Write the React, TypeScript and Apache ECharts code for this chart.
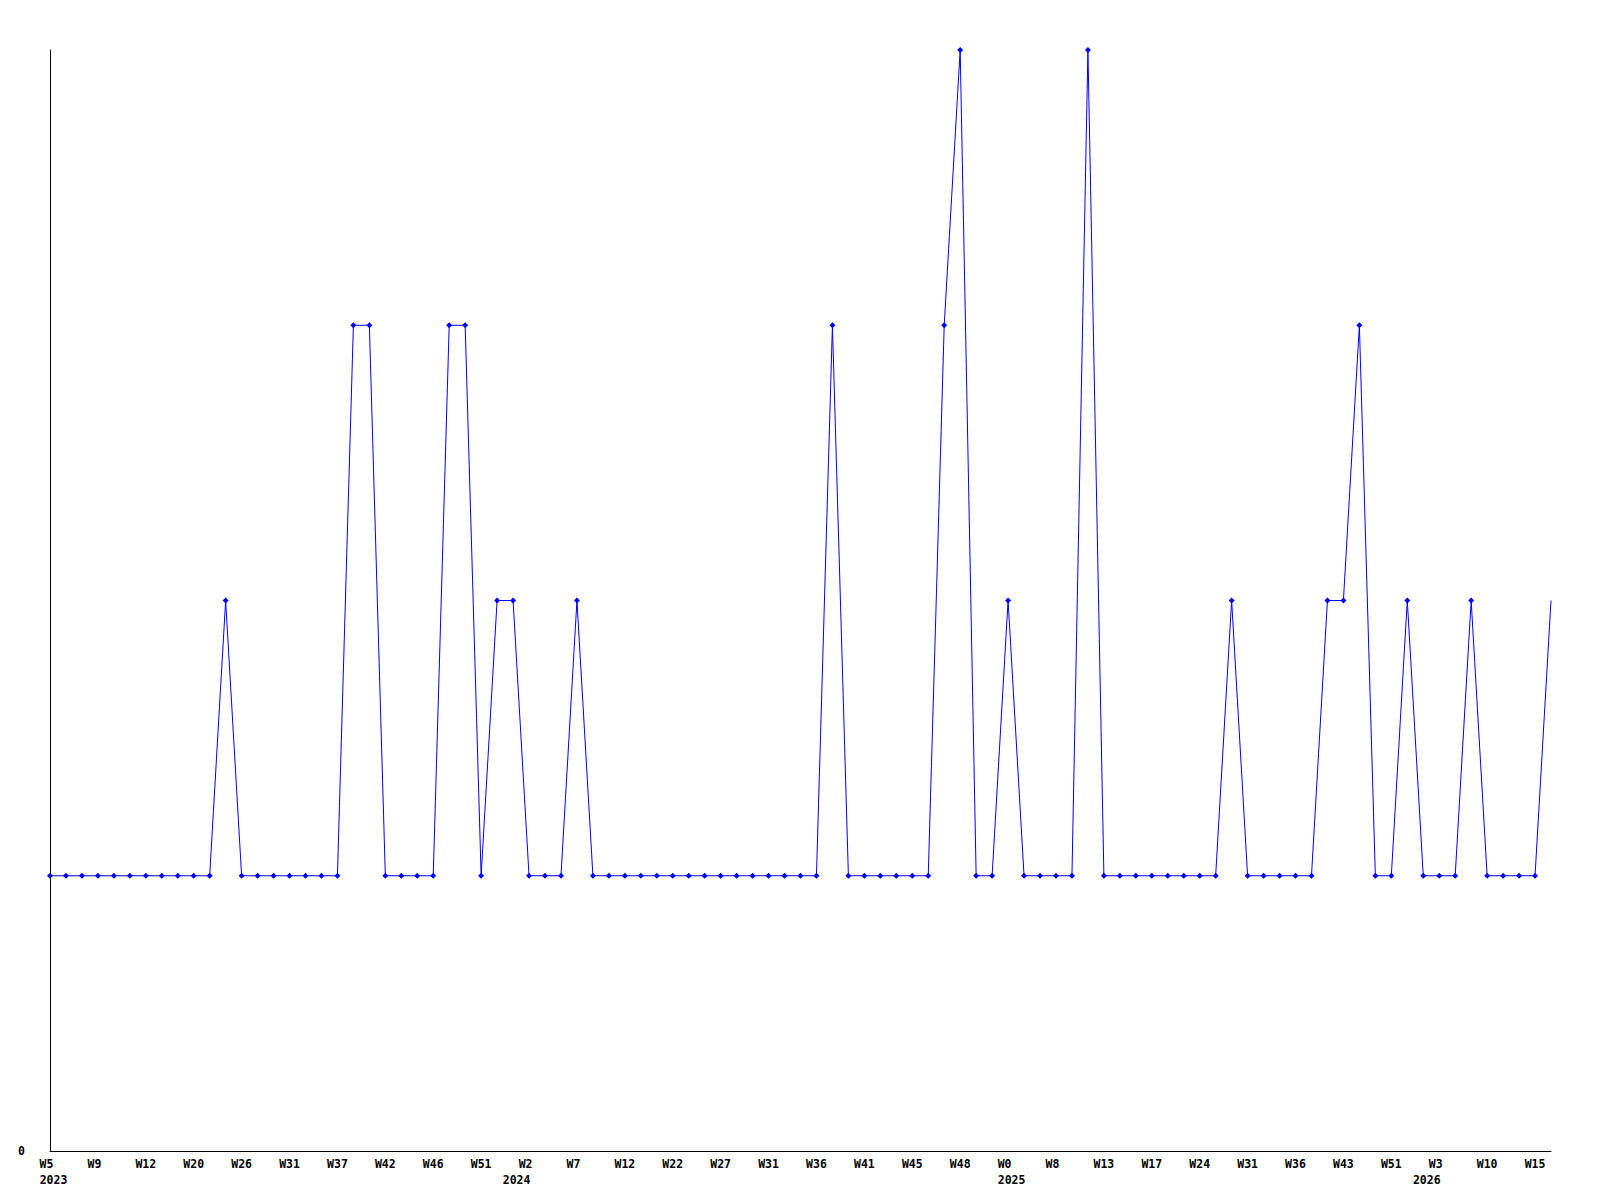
import React, { useEffect, useRef } from "react";
import * as echarts from "echarts";

// Series values, one per week point (95 points)
const values: number[] = [
  1, 1, 1, 1, 1, 1, 1, 1, 1, 1, 1,
  2,
  1, 1, 1, 1, 1, 1, 1,
  3, 3,
  1, 1, 1, 1,
  3, 3,
  1,
  2, 2,
  1, 1, 1,
  2,
  1, 1, 1, 1, 1, 1, 1, 1, 1, 1, 1, 1, 1, 1, 1,
  3,
  1, 1, 1, 1, 1, 1,
  3,
  4,
  1, 1,
  2,
  1, 1, 1, 1,
  4,
  1, 1, 1, 1, 1, 1, 1, 1,
  2,
  1, 1, 1, 1, 1,
  2, 2,
  3,
  1, 1,
  2,
  1, 1, 1,
  2,
  1, 1, 1, 1,
  2,
];

// Tick labels, shown every 3rd point
const weekTickLabels: string[] = [
  "W5", "W9", "W12", "W20", "W26", "W31", "W37", "W42", "W46", "W51",
  "W2", "W7", "W12", "W22", "W27", "W31", "W36", "W41", "W45", "W48",
  "W0", "W8", "W13", "W17", "W24", "W31", "W36", "W43", "W51",
  "W3", "W10", "W15",
];
const tickEvery = 3;

// Year labels and the point index where each year starts
const yearLabels: string[] = ["2023", "2024", "2025", "2026"];
const yearStartIndex: number[] = [0, 29, 60, 86];

const categories: string[] = values.map((_, i) =>
  i % tickEvery === 0 ? weekTickLabels[i / tickEvery] ?? "" : ""
);
const yearCategories: string[] = values.map((_, i) => {
  const k = yearStartIndex.indexOf(i);
  return k >= 0 ? yearLabels[k] : "";
});

const FONT = "'DejaVu Sans Mono', monospace";
const NBSP = "\u00a0";

export default function App() {
  const ref = useRef<HTMLDivElement>(null);
  useEffect(() => {
    document.body.style.margin = "0";
    if (!ref.current) return;
    const chart = echarts.init(ref.current, undefined, { renderer: "svg" });
    const seriesData = values.map((v, i) =>
      i === values.length - 1 ? { value: v, symbol: "none" } : v
    );
    chart.setOption({
      animation: false,
      backgroundColor: "#ffffff",
      grid: { left: 50, right: 49, top: 50, bottom: 49, containLabel: false },
      xAxis: [
        {
          type: "category",
          data: categories,
          boundaryGap: false,
          axisLine: { show: true, lineStyle: { color: "#000", width: 1 } },
          axisTick: { show: false },
          splitLine: { show: false },
          axisLabel: {
            interval: 0,
            margin: 7,
            color: "#000",
            fontFamily: FONT,
            fontWeight: "bold",
            fontSize: 11.5,
            hideOverlap: false,
            formatter: (s: string) => (s ? s.padEnd(3, NBSP) : ""),
          },
        },
        {
          type: "category",
          position: "bottom",
          data: yearCategories,
          boundaryGap: false,
          axisLine: { show: false },
          axisTick: { show: false },
          splitLine: { show: false },
          axisLabel: {
            interval: 0,
            margin: 23,
            color: "#000",
            fontFamily: FONT,
            fontWeight: "bold",
            fontSize: 11.5,
            hideOverlap: false,
            padding: [0, 0, 0, 7],
          },
        },
      ],
      yAxis: {
        type: "value",
        min: 0,
        max: 4,
        interval: 4,
        axisLine: { show: true, lineStyle: { color: "#000", width: 1 } },
        axisTick: { show: false },
        splitLine: { show: false },
        axisLabel: {
          margin: 25,
          color: "#000",
          fontFamily: FONT,
          fontWeight: "bold",
          fontSize: 11.5,
          formatter: (v: number) => (v === 0 ? "0" : ""),
        },
      },
      series: [
        {
          type: "line",
          data: seriesData,
          xAxisIndex: 0,
          symbol: "diamond",
          symbolSize: 6,
          showAllSymbol: true,
          lineStyle: { color: "#0000ff", width: 1 },
          itemStyle: { color: "#0000ff" },
        },
      ],
    });
    return () => chart.dispose();
  }, []);
  return <div ref={ref} style={{ width: 1600, height: 1200 }} />;
}
